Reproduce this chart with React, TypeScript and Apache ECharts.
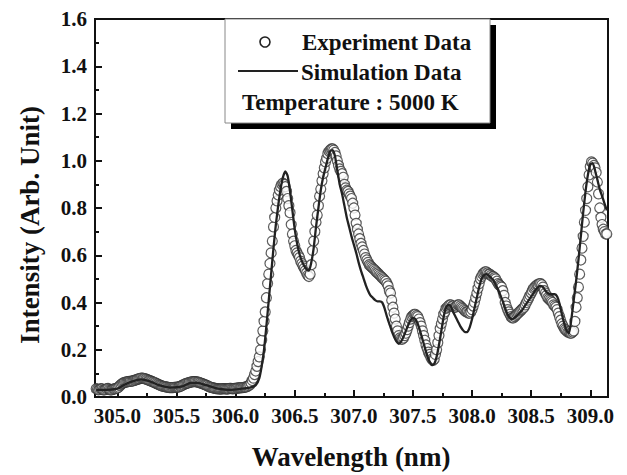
import React, { useEffect, useRef } from "react";
import * as echarts from "echarts";

// Experiment data: sampled every 0.01 nm starting at 304.82 nm
const expStart = 304.82;
const expStep = 0.01;
const expY: number[] = [
  // 304.82 - 304.99
  0.035, 0.033, 0.03, 0.032, 0.035, 0.034, 0.03, 0.03, 0.032, 0.035, 0.036, 0.033, 0.03, 0.03, 0.032, 0.034, 0.035, 0.036,
  // 305.00 -
  0.038, 0.042, 0.048, 0.053, 0.057, 0.06, 0.062, 0.063, 0.064, 0.065,
  0.066, 0.066, 0.067, 0.068, 0.07, 0.071, 0.073, 0.075, 0.077, 0.078,
  0.08, 0.08, 0.079, 0.078, 0.076, 0.074, 0.072, 0.07, 0.068, 0.066,
  0.064, 0.062, 0.06, 0.057, 0.055, 0.052, 0.05, 0.048, 0.046, 0.045,
  0.044, 0.043, 0.042, 0.041, 0.04, 0.04, 0.04, 0.04, 0.041, 0.041,
  0.042, 0.042, 0.043, 0.045, 0.047, 0.05, 0.052, 0.055, 0.057, 0.059,
  0.06, 0.062, 0.063, 0.064, 0.065, 0.065, 0.065, 0.064, 0.063, 0.062,
  0.06, 0.058, 0.056, 0.054, 0.052, 0.05, 0.048, 0.045, 0.043, 0.041,
  0.04, 0.038, 0.037, 0.036, 0.035, 0.035, 0.034, 0.034, 0.034, 0.035,
  0.035, 0.035, 0.034, 0.034, 0.035, 0.036, 0.036, 0.035, 0.035, 0.036,
  // 306.00 -
  0.036, 0.037, 0.038, 0.038, 0.039, 0.04, 0.04, 0.041, 0.042, 0.043,
  0.045, 0.048, 0.052, 0.06, 0.07, 0.08, 0.095, 0.11, 0.13, 0.15,
  0.17, 0.2, 0.24, 0.28, 0.32, 0.36, 0.42, 0.48, 0.52, 0.565,
  0.61, 0.66, 0.72, 0.76, 0.8, 0.83, 0.855, 0.875, 0.89, 0.9,
  0.905, 0.9, 0.89, 0.87, 0.84, 0.81, 0.78, 0.73, 0.69, 0.66,
  0.64, 0.62, 0.61, 0.6, 0.59, 0.575, 0.565, 0.555, 0.545, 0.535,
  0.525, 0.515, 0.51, 0.52, 0.56, 0.62, 0.66, 0.7, 0.74, 0.77,
  0.81, 0.85, 0.88, 0.915, 0.945, 0.97, 0.995, 1.01, 1.03, 1.04,
  1.045, 1.05, 1.05, 1.045, 1.035, 1.02, 1.0, 0.98, 0.965, 0.955,
  0.945, 0.93, 0.9, 0.885, 0.875, 0.87, 0.86, 0.85, 0.84, 0.82,
  // 307.00 -
  0.8, 0.77, 0.735, 0.71, 0.69, 0.67, 0.65, 0.635, 0.62, 0.605,
  0.59, 0.58, 0.57, 0.56, 0.555, 0.55, 0.545, 0.54, 0.535, 0.53,
  0.525, 0.52, 0.515, 0.51, 0.505, 0.5, 0.495, 0.49, 0.48, 0.47,
  0.45, 0.44, 0.41, 0.38, 0.355, 0.33, 0.3, 0.28, 0.26, 0.25,
  0.245, 0.245, 0.25, 0.26, 0.27, 0.285, 0.3, 0.315, 0.33, 0.34,
  0.345, 0.35, 0.35, 0.345, 0.34, 0.33, 0.315, 0.3, 0.28, 0.26,
  0.24, 0.22, 0.205, 0.19, 0.18, 0.17, 0.16, 0.155, 0.16, 0.18,
  0.2, 0.23, 0.26, 0.29, 0.31, 0.33, 0.35, 0.36, 0.375, 0.38,
  0.385, 0.39, 0.39, 0.385, 0.385, 0.38, 0.38, 0.385, 0.39, 0.39,
  0.385, 0.38, 0.375, 0.37, 0.365, 0.36, 0.36, 0.355, 0.355, 0.36,
  // 308.00 -
  0.37, 0.385, 0.4, 0.42, 0.44, 0.46, 0.48, 0.5, 0.51, 0.52,
  0.525, 0.53, 0.53, 0.525, 0.52, 0.52, 0.515, 0.51, 0.51, 0.505,
  0.5, 0.49, 0.48, 0.475, 0.47, 0.465, 0.45, 0.43, 0.4, 0.385,
  0.37, 0.36, 0.35, 0.34, 0.335, 0.335, 0.34, 0.345, 0.35, 0.355,
  0.36, 0.365, 0.37, 0.375, 0.38, 0.39, 0.4, 0.41, 0.42, 0.43,
  0.44, 0.45, 0.46, 0.465, 0.47, 0.475, 0.475, 0.48, 0.48, 0.475,
  0.465, 0.45, 0.44, 0.43, 0.42, 0.415, 0.41, 0.405, 0.4, 0.39,
  0.385, 0.38, 0.37, 0.355, 0.34, 0.325, 0.31, 0.3, 0.29, 0.285,
  0.28, 0.275, 0.275, 0.27, 0.27, 0.275, 0.28, 0.32, 0.38, 0.42,
  0.465, 0.52, 0.58, 0.63, 0.68, 0.74, 0.79, 0.84, 0.89, 0.94,
  // 309.00 -
  0.975, 0.995, 0.99, 0.98, 0.97, 0.95, 0.91, 0.86, 0.8, 0.76,
  0.73, 0.71, 0.7, 0.69, 0.69,
];

// Simulation data
const simX: number[] = [
  304.82, 304.9, 305.0, 305.05, 305.12, 305.2, 305.28, 305.35, 305.45, 305.55,
  305.62, 305.68, 305.75, 305.85, 305.95, 306.05, 306.12, 306.17, 306.2, 306.22,
  306.24, 306.26, 306.28, 306.3, 306.32, 306.34, 306.36, 306.38, 306.4, 306.42,
  306.44, 306.46, 306.48, 306.5, 306.52, 306.54, 306.56, 306.58, 306.6, 306.62,
  306.64, 306.66, 306.68, 306.7, 306.72, 306.74, 306.76, 306.78, 306.8, 306.82,
  306.84, 306.86, 306.88, 306.9, 306.92, 306.94, 306.96, 306.98, 307.0, 307.02,
  307.04, 307.06, 307.08, 307.1, 307.12, 307.14, 307.16, 307.18, 307.2, 307.22,
  307.24, 307.26, 307.28, 307.3, 307.32, 307.34, 307.36, 307.38, 307.4, 307.42,
  307.44, 307.46, 307.48, 307.5, 307.52, 307.54, 307.56, 307.58, 307.6, 307.62,
  307.64, 307.66, 307.68, 307.7, 307.72, 307.74, 307.76, 307.78, 307.8, 307.82,
  307.84, 307.86, 307.88, 307.9, 307.92, 307.94, 307.96, 307.98, 308.0, 308.02,
  308.04, 308.06, 308.08, 308.1, 308.12, 308.14, 308.16, 308.18, 308.2, 308.22,
  308.24, 308.26, 308.28, 308.3, 308.32, 308.34, 308.36, 308.38, 308.4, 308.42,
  308.44, 308.46, 308.48, 308.5, 308.52, 308.54, 308.56, 308.58, 308.6, 308.62,
  308.64, 308.66, 308.68, 308.7, 308.72, 308.74, 308.76, 308.78, 308.8, 308.82,
  308.84, 308.86, 308.88, 308.9, 308.92, 308.94, 308.96, 308.98, 309.0, 309.02,
  309.04, 309.06, 309.08, 309.1, 309.12, 309.14,
];
const simY: number[] = [
  0.03, 0.03, 0.035, 0.05, 0.065, 0.075, 0.065, 0.05, 0.04, 0.045,
  0.06, 0.06, 0.05, 0.035, 0.03, 0.035, 0.04, 0.05, 0.08, 0.13,
  0.2, 0.3, 0.41, 0.52, 0.63, 0.73, 0.81, 0.88, 0.93, 0.955,
  0.935, 0.87, 0.79, 0.71, 0.65, 0.605, 0.575, 0.555, 0.54, 0.535,
  0.57, 0.63, 0.72, 0.8, 0.875, 0.93, 0.97, 1.01, 1.04, 1.045,
  1.02, 0.96, 0.9, 0.86, 0.81, 0.76, 0.72, 0.68, 0.645, 0.61,
  0.57, 0.535, 0.505, 0.475, 0.45, 0.43, 0.42, 0.41, 0.405, 0.405,
  0.4, 0.375, 0.34, 0.31, 0.28, 0.255, 0.235, 0.225, 0.235, 0.255,
  0.28, 0.305, 0.325, 0.335, 0.33, 0.31, 0.28, 0.245, 0.21, 0.175,
  0.15, 0.135, 0.14, 0.17, 0.22, 0.28, 0.34, 0.38, 0.39, 0.385,
  0.36, 0.34, 0.32, 0.3, 0.285, 0.275, 0.275, 0.295, 0.33, 0.375,
  0.42, 0.465, 0.5, 0.515, 0.52, 0.515, 0.505, 0.495, 0.475, 0.455,
  0.43, 0.405, 0.375, 0.35, 0.335, 0.33, 0.335, 0.345, 0.355, 0.365,
  0.38, 0.395, 0.41, 0.425, 0.44, 0.455, 0.465, 0.47, 0.465, 0.45,
  0.44, 0.435, 0.435, 0.435, 0.425, 0.395, 0.35, 0.31, 0.28, 0.27,
  0.33, 0.41, 0.49, 0.58, 0.68, 0.78, 0.87, 0.94, 0.985, 0.99,
  0.96, 0.92, 0.88, 0.85, 0.82, 0.79,
];

const yTicks = ["0.0", "0.2", "0.4", "0.6", "0.8", "1.0", "1.2", "1.4", "1.6"];
const legendLabels = ["Experiment Data", "Simulation Data", "Temperature : 5000 K"];
const xName = "Wavelength (nm)";
const yName = "Intensity (Arb. Unit)";

const FONT = '"Liberation Serif", "Times New Roman", serif';

export default function App() {
  const ref = useRef<HTMLDivElement>(null);
  useEffect(() => {
    if (!ref.current) return;
    const chart = echarts.init(ref.current, undefined, { renderer: "svg" });
    const expData = expY.map((v, i) => [Number((expStart + i * expStep).toFixed(2)), v]);
    const simData = simX.map((x, i) => [x, simY[i]]);
    const labelStyle = { fontFamily: FONT, fontWeight: "bold" as const, fontSize: 21, color: "#111" };
    chart.setOption({
      animation: false,
      backgroundColor: "#fff",
      grid: {
        left: 95,
        right: 19,
        top: 19,
        bottom: 78,
        show: true,
        borderColor: "#111",
        borderWidth: 2,
        backgroundColor: "transparent",
      },
      xAxis: {
        type: "value",
        min: 304.81,
        max: 309.15,
        splitNumber: 9,
        axisLine: { lineStyle: { color: "#111", width: 2 } },
        axisTick: { inside: true, length: 7, lineStyle: { color: "#111", width: 2 } },
        minorTick: { show: true, splitNumber: 2, length: 4, lineStyle: { color: "#111", width: 2 } },
        splitLine: { show: false },
        axisLabel: {
          ...labelStyle,
          margin: 8,
          showMinLabel: false,
          showMaxLabel: false,
          formatter: (v: number) => v.toFixed(1),
        },
      },
      yAxis: {
        type: "value",
        min: 0,
        max: 1.6,
        interval: 0.2,
        axisLine: { lineStyle: { color: "#111", width: 2 } },
        axisTick: { inside: true, length: 7, lineStyle: { color: "#111", width: 2 } },
        minorTick: { show: true, splitNumber: 2, length: 4, lineStyle: { color: "#111", width: 2 } },
        splitLine: { show: false },
        axisLabel: {
          ...labelStyle,
          margin: 8,
          formatter: (v: number) => yTicks[Math.round(v / 0.2)] ?? v.toFixed(1),
        },
      },
      series: [
        {
          name: legendLabels[0],
          type: "scatter",
          data: expData,
          symbol: "circle",
          symbolSize: 10,
          itemStyle: { color: "#fff", borderColor: "#333", borderWidth: 1.2 },
          z: 2,
        },
        {
          name: legendLabels[1],
          type: "line",
          data: simData,
          showSymbol: false,
          smooth: 0.2,
          lineStyle: { color: "#222", width: 2.3 },
          z: 3,
        },
      ],
      graphic: [
        { type: "rect", shape: { x: 231, y: 25, width: 265, height: 104 }, style: { fill: "#000" }, z: 100 },
        { type: "rect", shape: { x: 225, y: 19, width: 265, height: 104 }, style: { fill: "#fff", stroke: "#888", lineWidth: 1 }, z: 101 },
        { type: "circle", shape: { cx: 265, cy: 42, r: 5 }, style: { fill: "#fff", stroke: "#222", lineWidth: 1.6 }, z: 102 },
        { type: "line", shape: { x1: 238, y1: 71, x2: 298, y2: 71 }, style: { stroke: "#222", lineWidth: 2.2 }, z: 102 },
        {
          type: "text", x: 302, y: 42, z: 102,
          style: { text: legendLabels[0], fontFamily: FONT, fontWeight: "bold", fontSize: 23, fill: "#111", align: "left", verticalAlign: "middle" },
        },
        {
          type: "text", x: 301, y: 72, z: 102,
          style: { text: legendLabels[1], fontFamily: FONT, fontWeight: "bold", fontSize: 23, fill: "#111", align: "left", verticalAlign: "middle" },
        },
        {
          type: "text", x: 242, y: 102, z: 102,
          style: { text: legendLabels[2], fontFamily: FONT, fontWeight: "bold", fontSize: 23, fill: "#111", align: "left", verticalAlign: "middle" },
        },
        {
          type: "text", x: 351, y: 457, z: 102,
          style: { text: xName, fontFamily: FONT, fontWeight: "bold", fontSize: 27, fill: "#111", align: "center", verticalAlign: "middle" },
        },
        {
          type: "text", x: 30, y: 225, rotation: Math.PI / 2, z: 102,
          style: { text: yName, fontFamily: FONT, fontWeight: "bold", fontSize: 27, fill: "#111", align: "center", verticalAlign: "middle" },
        },
      ],
    });
    return () => chart.dispose();
  }, []);
  return <div ref={ref} style={{ width: 627, height: 475, position: "absolute", left: 0, top: 0 }} />;
}
